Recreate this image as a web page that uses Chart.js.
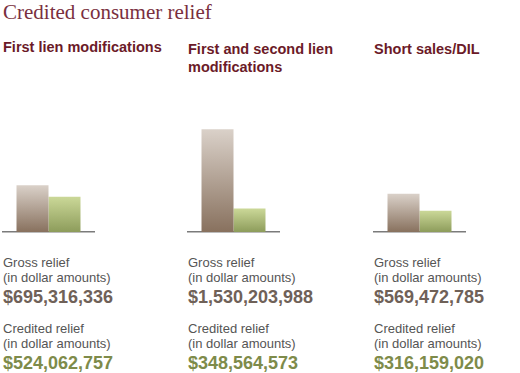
<!DOCTYPE html>
<html>
<head>
<meta charset="utf-8">
<script src="https://cdn.jsdelivr.net/npm/chart.js@4/dist/chart.umd.min.js"></script>
<style>
  body { margin: 0; background: #fff; width: 520px; height: 373px; position: relative; overflow: hidden; }
  .title { position: absolute; left: 3px; top: 0px; font: 21px "Liberation Serif", serif; color: #7a2f3e; line-height: 24px; }
  .col { position: absolute; top: 0; width: 180px; height: 373px; }
  .head { position: absolute; left: 1px; font: bold 14.5px "Liberation Sans", Arial, sans-serif; color: #6b1a28; line-height: 18px; }
  .chart { position: absolute; top: 111px; width: 93px; height: 129px; }
  .txt { position: absolute; left: 1px; top: 255px; font-family: "Liberation Sans", Arial, sans-serif; }
  .lbl { font-size: 13px; line-height: 15px; color: #555; }
  .val { font-size: 18px; font-weight: bold; line-height: 24px; }
  .gross { color: #6f6158; }
  .cred { color: #7e8b4a; }
</style>
</head>
<body>
<div class="title">Credited consumer relief</div>
<div id="cols"></div>
<script>
const categories = ['First lien modifications', 'First and second lien modifications', 'Short sales/DIL']
const grossRelief = [695316336, 1530203988, 569472785]
const creditedRelief = [524062757, 348564573, 316159020]

const colLeft = [2, 187, 373]
const headTop = [38, 40, 40]
const headLines = [['First lien modifications'], ['First and second lien', 'modifications'], ['Short sales/DIL']]

function money(v){
    return '$' + v.toLocaleString('en-US')
}

function barGradient(top, bottom){
    return function(ctx){
        const chart = ctx.chart
        const y = chart.scales.y
        if(!chart.chartArea || !y || ctx.raw === undefined) return top
        const y0 = y.getPixelForValue(ctx.raw)
        const y1 = y.getPixelForValue(0)
        if(!isFinite(y0) || !isFinite(y1)) return top
        const g = chart.ctx.createLinearGradient(0, y0, 0, y1)
        g.addColorStop(0, top)
        g.addColorStop(1, bottom)
        return g
    }
}

const holder = document.getElementById('cols')
categories.forEach((cat, i) => {
    const col = document.createElement('div')
    col.className = 'col'
    col.style.left = colLeft[i] + 'px'
    col.innerHTML =
        '<div class="head" style="top:' + headTop[i] + 'px">' + headLines[i].join('<br>') + '</div>' +
        '<div class="chart"><canvas></canvas></div>' +
        '<div class="txt">' +
        '<div class="lbl">Gross relief</div>' +
        '<div class="lbl">(in dollar amounts)</div>' +
        '<div class="val gross">' + money(grossRelief[i]) + '</div>' +
        '<div class="lbl" style="margin-top:12px">Credited relief</div>' +
        '<div class="lbl">(in dollar amounts)</div>' +
        '<div class="val cred">' + money(creditedRelief[i]) + '</div>' +
        '</div>'
    holder.appendChild(col)

    new Chart(col.querySelector('canvas'), {
        type: 'bar',
        data: {
            labels: [cat],
            datasets: [{
                label: 'Gross relief',
                data: [grossRelief[i]],
                backgroundColor: barGradient('#dad1c9', '#88715e')
            }, {
                label: 'Credited relief',
                data: [creditedRelief[i]],
                backgroundColor: barGradient('#cbd898', '#8d9c5b')
            }]
        },
        options: {
            responsive: true,
            maintainAspectRatio: false,
            animation: false,
            layout: { padding: 0 },
            plugins: { legend: { display: false }, tooltip: { enabled: false } },
            datasets: { bar: { categoryPercentage: 0.688, barPercentage: 1 } },
            scales: {
                x: {
                    grid: { display: false },
                    ticks: { display: false },
                    border: { display: true, color: '#7b7b7b', width: 1.5 }
                },
                y: {
                    display: false,
                    min: 0,
                    max: 1800000000
                }
            }
        }
    })
})
</script>
</body>
</html>
